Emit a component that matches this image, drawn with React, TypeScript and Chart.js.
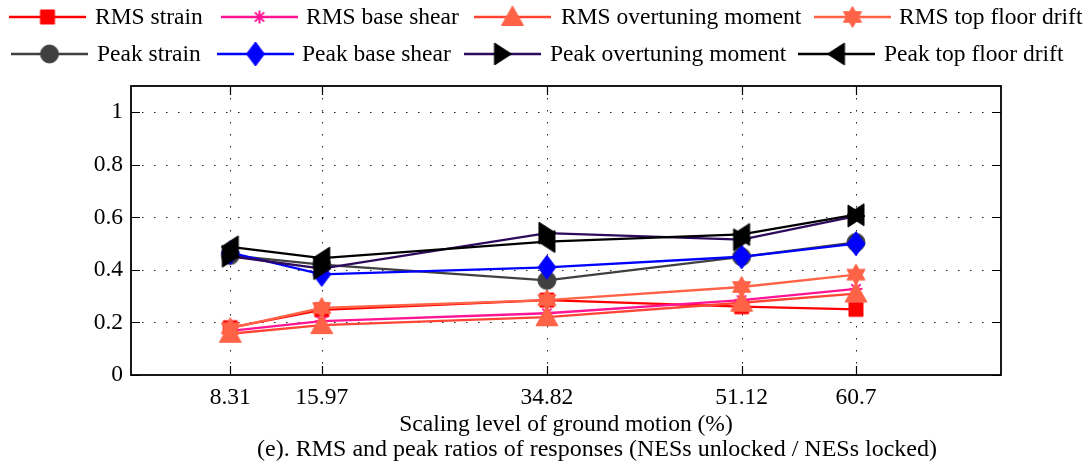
import React, { useEffect, useRef } from 'react';
import { Chart, registerables } from 'chart.js';

Chart.register(...registerables);

// ---------------- data ----------------
const xLevels = [8.31, 15.97, 34.82, 51.12, 60.7];
const yTickValues = [0, 0.2, 0.4, 0.6, 0.8, 1];
const xMax = 72.84;
const yMax = 1.1;

const seriesNames = [
  'RMS strain',
  'RMS base shear',
  'RMS overtuning moment',
  'RMS top floor drift',
  'Peak strain',
  'Peak base shear',
  'Peak overtuning moment',
  'Peak top floor drift',
];

const rmsStrain = [0.18, 0.248, 0.285, 0.26, 0.25];
const rmsBaseShear = [0.168, 0.205, 0.235, 0.285, 0.328];
const rmsOvertuningMoment = [0.157, 0.19, 0.22, 0.275, 0.31];
const rmsTopFloorDrift = [0.178, 0.255, 0.285, 0.335, 0.382];
const peakStrain = [0.455, 0.42, 0.36, 0.45, 0.505];
const peakBaseShear = [0.466, 0.383, 0.41, 0.45, 0.5];
const peakOvertuningMoment = [0.452, 0.405, 0.54, 0.515, 0.605];
const peakTopFloorDrift = [0.488, 0.445, 0.508, 0.535, 0.61];

const seriesValues = [
  rmsStrain,
  rmsBaseShear,
  rmsOvertuningMoment,
  rmsTopFloorDrift,
  peakStrain,
  peakBaseShear,
  peakOvertuningMoment,
  peakTopFloorDrift,
];

const xAxisTitle = 'Scaling level of ground motion (%)';
const caption = '(e). RMS and peak ratios of responses (NESs unlocked / NESs locked)';

// ---------------- styles ----------------
const FONT = '"Liberation Serif", "Times New Roman", serif';
const FONT_SIZE = 23.5;

const seriesStyles = [
  { line: '#FF0000', fill: '#FF0000', edge: '#FF0000', shape: 'square' },
  { line: '#FF1493', fill: '#FF1493', edge: '#FF1493', shape: 'asterisk' },
  { line: '#FF4436', fill: '#FF6347', edge: '#FF6347', shape: 'triUp' },
  { line: '#FF6347', fill: '#FF6347', edge: '#FF6347', shape: 'hexagram' },
  { line: '#404040', fill: '#404040', edge: '#404040', shape: 'circle' },
  { line: '#0000FF', fill: '#0000FF', edge: '#0000FF', shape: 'diamond' },
  { line: '#2E0A5C', fill: '#000000', edge: '#000000', shape: 'triRight' },
  { line: '#000000', fill: '#000000', edge: '#000000', shape: 'triLeft' },
];

// legend layout: [lineStartX, rowY, textX]
const legendLayout = [
  [9, 17, 95],
  [221, 17, 306],
  [474, 17, 561],
  [814, 17, 899],
  [11, 54, 97],
  [217, 54, 302],
  [464, 54, 550],
  [798, 54, 884],
];
const LEGEND_LINE_LEN = 77;

function makeMarker(shape: string, fill: string, edge: string): HTMLCanvasElement {
  const S = 30;
  const c = document.createElement('canvas');
  c.width = S;
  c.height = S;
  const g = c.getContext('2d')!;
  g.translate(S / 2, S / 2);
  g.fillStyle = fill;
  g.strokeStyle = edge;
  g.lineWidth = 1;
  g.lineJoin = 'miter';
  g.beginPath();
  if (shape === 'square') {
    g.rect(-7, -7, 14, 14);
  } else if (shape === 'circle') {
    g.arc(0, 0, 9, 0, Math.PI * 2);
  } else if (shape === 'diamond') {
    g.moveTo(0, -12);
    g.lineTo(9, 0);
    g.lineTo(0, 12);
    g.lineTo(-9, 0);
    g.closePath();
  } else if (shape === 'triUp') {
    g.moveTo(0, -11);
    g.lineTo(11, 8.5);
    g.lineTo(-11, 8.5);
    g.closePath();
  } else if (shape === 'triRight') {
    g.moveTo(9, 0);
    g.lineTo(-8, -11);
    g.lineTo(-8, 11);
    g.closePath();
  } else if (shape === 'triLeft') {
    g.moveTo(-9, 0);
    g.lineTo(8, -11);
    g.lineTo(8, 11);
    g.closePath();
  } else if (shape === 'hexagram') {
    const R = 10.5;
    const r = R / Math.sqrt(3);
    for (let i = 0; i < 12; i++) {
      const ang = -Math.PI / 2 + (i * Math.PI) / 6;
      const rr = i % 2 === 0 ? R : r;
      const px = rr * Math.cos(ang);
      const py = rr * Math.sin(ang);
      if (i === 0) g.moveTo(px, py);
      else g.lineTo(px, py);
    }
    g.closePath();
  }
  if (shape === 'asterisk') {
    g.lineWidth = 2;
    const L = 6.5;
    for (let i = 0; i < 4; i++) {
      const ang = (i * Math.PI) / 4;
      g.moveTo(-L * Math.cos(ang), -L * Math.sin(ang));
      g.lineTo(L * Math.cos(ang), L * Math.sin(ang));
    }
    g.stroke();
  } else {
    g.fill();
    g.stroke();
  }
  return c;
}

export default function App() {
  const canvasRef = useRef<HTMLCanvasElement | null>(null);

  useEffect(() => {
    const canvas = canvasRef.current;
    if (!canvas) return;

    const markers = seriesStyles.map((s) => makeMarker(s.shape, s.fill, s.edge));

    const datasets = seriesNames.map((name, i) => ({
      label: name,
      data: xLevels.map((x, j) => ({ x, y: seriesValues[i][j] })),
      borderColor: seriesStyles[i].line,
      backgroundColor: seriesStyles[i].fill,
      borderWidth: 2.3,
      fill: false,
      tension: 0,
      pointStyle: markers[i] as any,
      pointRadius: 8,
      pointHoverRadius: 8,
      order: seriesNames.length - i,
    }));

    const framePlugin = {
      id: 'framePlugin',
      beforeDatasetsDraw(chart: any) {
        const { ctx, chartArea: a, scales } = chart;
        ctx.save();
        ctx.strokeStyle = '#222';
        ctx.lineWidth = 1;
        ctx.setLineDash([1.5, 10.5]);
        for (const v of yTickValues) {
          if (v <= 0) continue;
          const y = Math.round(scales.y.getPixelForValue(v)) + 0.5;
          ctx.beginPath();
          ctx.moveTo(a.left + 11, y);
          ctx.lineTo(a.right, y);
          ctx.stroke();
        }
        for (const v of xLevels) {
          const x = Math.round(scales.x.getPixelForValue(v)) + 0.5;
          ctx.beginPath();
          ctx.moveTo(x, a.top);
          ctx.lineTo(x, a.bottom);
          ctx.stroke();
        }
        ctx.setLineDash([]);
        ctx.strokeStyle = '#000';
        ctx.lineWidth = 1.2;
        const TL = 9;
        for (const v of yTickValues) {
          const y = Math.round(scales.y.getPixelForValue(v)) + 0.5;
          ctx.beginPath();
          ctx.moveTo(a.left, y);
          ctx.lineTo(a.left + TL, y);
          ctx.moveTo(a.right, y);
          ctx.lineTo(a.right - TL, y);
          ctx.stroke();
        }
        for (const v of xLevels) {
          const x = Math.round(scales.x.getPixelForValue(v)) + 0.5;
          ctx.beginPath();
          ctx.moveTo(x, a.bottom);
          ctx.lineTo(x, a.bottom - TL);
          ctx.moveTo(x, a.top);
          ctx.lineTo(x, a.top + TL);
          ctx.stroke();
        }
        ctx.restore();
      },
      afterDatasetsDraw(chart: any) {
        const { ctx, chartArea: a } = chart;
        ctx.save();
        ctx.strokeStyle = '#000';
        ctx.lineWidth = 1.8;
        ctx.strokeRect(a.left, a.top, a.right - a.left, a.bottom - a.top);
        ctx.restore();
      },
      afterDraw(chart: any) {
        const { ctx, chartArea: a } = chart;
        ctx.save();
        ctx.font = `${FONT_SIZE}px ${FONT}`;
        ctx.fillStyle = '#000';
        ctx.textBaseline = 'middle';
        // legend
        seriesNames.forEach((name, i) => {
          const [lx, ly, tx] = legendLayout[i];
          ctx.strokeStyle = seriesStyles[i].line;
          ctx.lineWidth = 2.3;
          ctx.beginPath();
          ctx.moveTo(lx, ly);
          ctx.lineTo(lx + LEGEND_LINE_LEN, ly);
          ctx.stroke();
          const m = markers[i];
          ctx.drawImage(m, lx + LEGEND_LINE_LEN / 2 - m.width / 2, ly - m.height / 2);
          ctx.fillStyle = '#000';
          ctx.textAlign = 'left';
          ctx.fillText(name, tx, ly + 1);
        });
        // axis title & caption
        ctx.textAlign = 'center';
        ctx.fillText(xAxisTitle, (a.left + a.right) / 2, 425);
        ctx.font = `24px ${FONT}`;
        ctx.fillText(caption, 597, 450);
        ctx.restore();
      },
    };

    const chart = new Chart(canvas, {
      type: 'line',
      data: { datasets: datasets as any },
      options: {
        animation: false,
        responsive: false,
        devicePixelRatio: 1,
        layout: { padding: { top: 86, right: 88, left: 0, bottom: 0 } },
        plugins: {
          legend: { display: false },
          title: { display: false },
          tooltip: { enabled: false },
        },
        scales: {
          x: {
            type: 'linear',
            min: 0,
            max: xMax,
            grid: { display: false, drawTicks: false },
            border: { display: false },
            afterBuildTicks: (s: any) => {
              s.ticks = xLevels.map((v) => ({ value: v }));
            },
            afterFit: (s: any) => {
              s.height = 92;
            },
            ticks: {
              padding: 9,
              color: '#000',
              font: { family: FONT, size: FONT_SIZE },
              maxRotation: 0,
              autoSkip: false,
              callback: (v: any) => String(v),
            },
          },
          y: {
            type: 'linear',
            min: 0,
            max: yMax,
            grid: { display: false, drawTicks: false },
            border: { display: false },
            afterBuildTicks: (s: any) => {
              s.ticks = yTickValues.map((v) => ({ value: v }));
            },
            afterFit: (s: any) => {
              s.width = 131;
            },
            ticks: {
              padding: 8,
              color: '#000',
              font: { family: FONT, size: FONT_SIZE },
              callback: (v: any) => String(v),
            },
          },
        },
      },
      plugins: [framePlugin],
    });

    return () => {
      chart.destroy();
    };
  }, []);

  return (
    <div style={{ position: 'absolute', left: 0, top: 0, width: 1089, height: 467, background: '#fff' }}>
      <canvas ref={canvasRef} width={1089} height={467} style={{ display: 'block' }} />
    </div>
  );
}
